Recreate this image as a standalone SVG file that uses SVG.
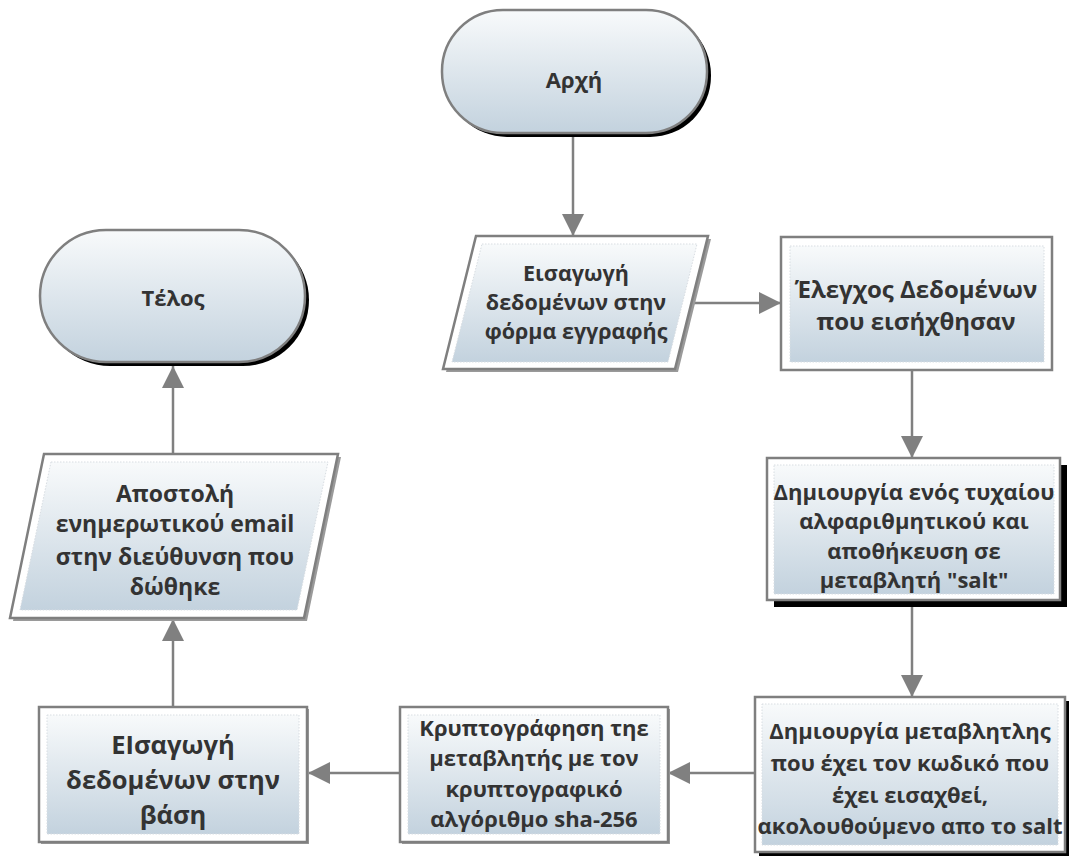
<svg xmlns="http://www.w3.org/2000/svg" width="1076" height="859" viewBox="0 0 1076 859">
<defs>
<linearGradient id="g" x1="0" y1="0" x2="0" y2="1">
<stop offset="0" stop-color="#f8fafb"/>
<stop offset="1" stop-color="#c3d2de"/>
</linearGradient>
<marker id="ah" markerUnits="userSpaceOnUse" markerWidth="24" markerHeight="22" refX="22" refY="11" orient="auto">
<path d="M0,0 L22,11 L0,22 Z" fill="#808080"/>
</marker>
</defs>
<style>
.out{fill:#ffffff;stroke:#7f7f7f;stroke-width:2.5}
.in{fill:url(#g);stroke:#d8dde2;stroke-width:1;stroke-dasharray:1.5 1.5}
.term{fill:url(#g);stroke:#7f7f7f;stroke-width:2.5}
.sh{fill:#000000}
.gs{fill:#9a9a9a}
.t{font-family:"Open Sans","Noto Sans","DejaVu Sans",sans-serif;font-weight:bold;fill:#333333;text-anchor:middle}
.c{fill:none;stroke:#808080;stroke-width:2.5;marker-end:url(#ah)}
</style>
<rect width="1076" height="859" fill="#ffffff"/>

<g id="connectors">
<line class="c" x1="573" y1="133" x2="573" y2="236"/>
<line class="c" x1="690" y1="303" x2="781" y2="303"/>
<line class="c" x1="912" y1="370" x2="912" y2="458"/>
<line class="c" x1="912" y1="600" x2="912" y2="697"/>
<line class="c" x1="755" y1="773" x2="668" y2="773"/>
<line class="c" x1="400" y1="773" x2="308" y2="773"/>
<line class="c" x1="173" y1="707" x2="173" y2="619"/>
<line class="c" x1="173" y1="454" x2="173" y2="366"/>
</g>

<g id="start">
<rect class="sh" x="446" y="14" width="265" height="123" rx="61"/>
<rect class="term" x="442" y="10" width="265" height="123" rx="61"/>
<text class="t" x="574" y="88" font-size="22">Αρχή</text>
</g>

<g id="input-form">
<polygon class="gs" points="479,239 711,239 678,372 446,372"/>
<polygon class="out" points="476,236 708,236 675,369 443,369"/>
<polygon class="in" points="482,244 697,244 668,362 452,362"/>
<text class="t" x="576" y="281" font-size="21.5">Εισαγωγή</text>
<text class="t" x="576" y="310" font-size="21.5">δεδομένων στην</text>
<text class="t" x="576" y="339" font-size="21.5">φόρμα εγγραφής</text>
</g>

<g id="check">
<rect class="out" x="781" y="237" width="271" height="133"/>
<rect class="in" x="790" y="246" width="254" height="116"/>
<text class="t" x="916" y="298" font-size="24">Έλεγχος Δεδομένων</text>
<text class="t" x="916" y="330" font-size="24">που εισήχθησαν</text>
</g>

<g id="salt">
<rect class="sh" x="774" y="465" width="293" height="142"/>
<rect class="out" x="767" y="458" width="293" height="142"/>
<rect class="in" x="774" y="465" width="280" height="129"/>
<text class="t" x="914" y="500" font-size="22">Δημιουργία ενός τυχαίου</text>
<text class="t" x="914" y="529" font-size="22">αλφαριθμητικού και</text>
<text class="t" x="914" y="559" font-size="22">αποθήκευση σε</text>
<text class="t" x="914" y="588" font-size="22">μεταβλητή "salt"</text>
</g>

<g id="password-var">
<rect class="sh" x="759" y="701" width="310" height="155"/>
<rect class="out" x="755" y="697" width="310" height="155"/>
<rect class="in" x="762" y="704" width="296" height="141"/>
<text class="t" x="910" y="739" font-size="22">Δημιουργία μεταβλητλης</text>
<text class="t" x="910" y="771" font-size="22">που έχει τον κωδικό που</text>
<text class="t" x="910" y="803" font-size="22">έχει εισαχθεί,</text>
<text class="t" x="910" y="834" font-size="22">ακολουθούμενο απο το salt</text>
</g>

<g id="hash">
<rect class="gs" x="402" y="709" width="268" height="135"/>
<rect class="out" x="400" y="707" width="268" height="135"/>
<rect class="in" x="408" y="715" width="252" height="119"/>
<text class="t" x="534" y="736" font-size="22">Κρυπτογράφηση τηε</text>
<text class="t" x="534" y="766" font-size="22">μεταβλητής με τον</text>
<text class="t" x="534" y="797" font-size="22">κρυπτογραφικό</text>
<text class="t" x="534" y="827" font-size="22">αλγόριθμο sha-256</text>
</g>

<g id="db-insert">
<rect class="gs" x="41" y="709" width="268" height="135"/>
<rect class="out" x="39" y="707" width="268" height="135"/>
<rect class="in" x="47" y="715" width="252" height="119"/>
<text class="t" x="173" y="754" font-size="25.5">ΕΙσαγωγή</text>
<text class="t" x="173" y="789" font-size="25.5">δεδομένων στην</text>
<text class="t" x="173" y="824" font-size="25.5">βάση</text>
</g>

<g id="email">
<polygon class="gs" points="47,457 341,457 307,621 13,621"/>
<polygon class="out" points="44,454 338,454 304,618 10,618"/>
<polygon class="in" points="51,462 328,462 297,610 20,610"/>
<text class="t" x="175" y="502" font-size="23">Αποστολή</text>
<text class="t" x="175" y="532" font-size="23">ενημερωτικού email</text>
<text class="t" x="175" y="565" font-size="23">στην διεύθυνση που</text>
<text class="t" x="175" y="595" font-size="23">δώθηκε</text>
</g>

<g id="end">
<rect class="sh" x="44" y="234" width="265" height="132" rx="66"/>
<rect class="term" x="40" y="230" width="265" height="132" rx="66"/>
<text class="t" x="173" y="306" font-size="22">Τέλος</text>
</g>
</svg>
